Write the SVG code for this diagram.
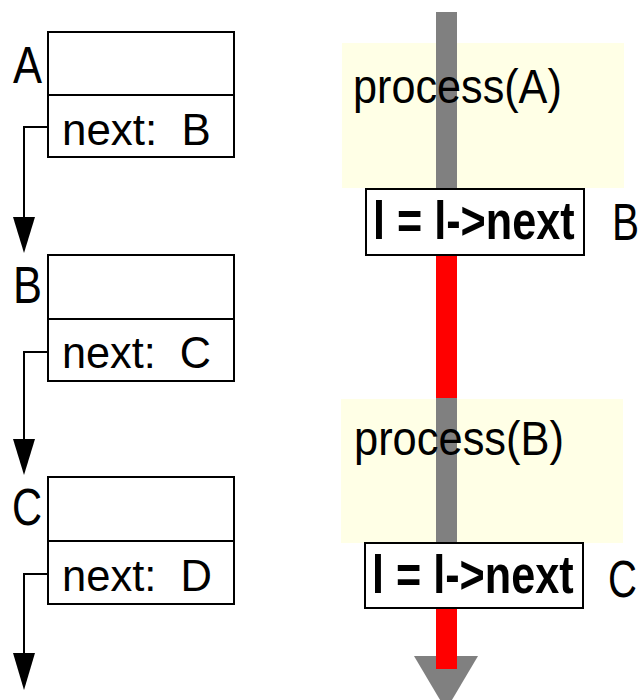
<svg xmlns="http://www.w3.org/2000/svg" width="642" height="700" viewBox="0 0 642 700">
<style>
.box{fill:#fff;stroke:#000;stroke-width:2}
.lbl{font-family:"Liberation Sans",Arial,sans-serif;font-size:52px;fill:#000}
.fld{font-family:"Liberation Sans",Arial,sans-serif;font-size:45px;fill:#000;white-space:pre}
.proc{font-family:"Liberation Sans",Arial,sans-serif;font-size:48px;fill:#000}
.code{font-family:"Liberation Sans",Arial,sans-serif;font-size:54px;font-weight:bold;fill:#000}
.yel{fill:#ffffe6}
.conn{fill:none;stroke:#000;stroke-width:2}
</style>
<rect width="642" height="700" fill="#fff"/>

<g id="node-A">
  <rect class="box" x="48" y="32" width="186" height="125"/>
  <line class="conn" x1="48" y1="95" x2="234" y2="95"/>
  <text class="lbl" transform="translate(13,83) scale(0.836,1)">A</text>
  <text class="fld" transform="translate(62,145) scale(0.976,1)" xml:space="preserve">next:  B</text>
</g>
<g id="node-B">
  <rect class="box" x="48" y="255" width="186" height="126"/>
  <line class="conn" x1="48" y1="319" x2="234" y2="319"/>
  <text class="lbl" transform="translate(13,303) scale(0.836,1)">B</text>
  <text class="fld" transform="translate(62,368) scale(0.961,1)" xml:space="preserve">next:  C</text>
</g>
<g id="node-C">
  <rect class="box" x="48" y="477" width="186" height="127"/>
  <line class="conn" x1="48" y1="541" x2="234" y2="541"/>
  <text class="lbl" transform="translate(12,525) scale(0.8,1)">C</text>
  <text class="fld" transform="translate(62,591) scale(0.967,1)" xml:space="preserve">next:  D</text>
</g>

<g id="connectors">
  <path class="conn" d="M48,127 H24 V218"/>
  <polygon points="13,217 35,217 24,253" fill="#000"/>
  <path class="conn" d="M48,352 H24 V440"/>
  <polygon points="13,439 35,439 24,475" fill="#000"/>
  <path class="conn" d="M48,574 H24 V654"/>
  <polygon points="13,653 35,653 24,690" fill="#000"/>
</g>

<g id="process-A-bg">
  <rect class="yel" x="342" y="43" width="282" height="145"/>
</g>
<g id="process-B-bg">
  <rect class="yel" x="341" y="399" width="282" height="144"/>
</g>

<g id="timeline">
  <rect x="436" y="12" width="21" height="650" fill="#808080"/>
  <polygon points="414,656 478,656 446,710" fill="#808080"/>
  <rect x="436" y="255" width="21" height="143" fill="#ff0000"/>
  <rect x="436" y="608" width="21" height="61" fill="#ff0000"/>
</g>

<g id="process-A">
  <text class="proc" transform="translate(353,103) scale(0.9,1)">process(A)</text>
</g>
<g id="process-B">
  <text class="proc" transform="translate(354,455) scale(0.905,1)">process(B)</text>
</g>

<g id="step-1">
  <rect class="box" x="366" y="189" width="218" height="66"/>
  <text class="code" transform="translate(373,239) scale(0.8,1)">l = l-&gt;next</text>
  <text class="lbl" transform="translate(612,240) scale(0.78,1)">B</text>
</g>
<g id="step-2">
  <rect class="box" x="365" y="543" width="218" height="65"/>
  <text class="code" transform="translate(372,593) scale(0.8,1)">l = l-&gt;next</text>
  <text class="lbl" transform="translate(608,597) scale(0.77,1)">C</text>
</g>
</svg>
